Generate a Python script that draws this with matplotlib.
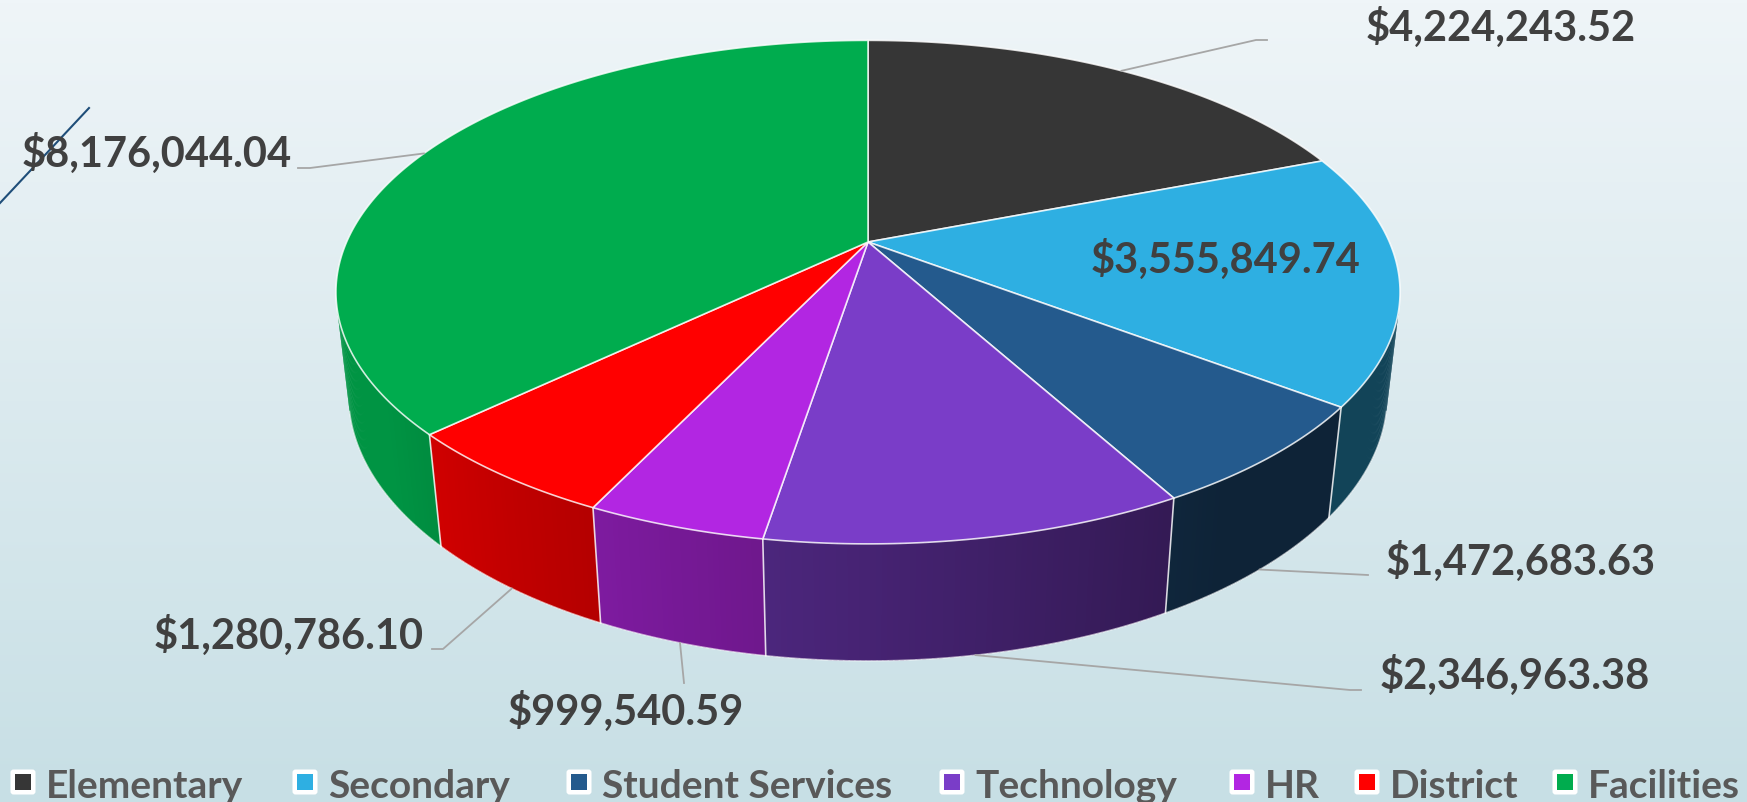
import numpy as np
import matplotlib.pyplot as plt
from matplotlib.patches import Polygon, FancyBboxPatch, Rectangle
from matplotlib.colors import to_rgb

plt.rcParams['font.family'] = ['Lato', 'DejaVu Sans']

# data
categories = ['Elementary', 'Secondary', 'Student Services', 'Technology', 'HR', 'District', 'Facilities']
values = [4224243.52, 3555849.74, 1472683.63, 2346963.38, 999540.59, 1280786.10, 8176044.04]
colors = ['#363636', '#2eafe2', '#245a8d', '#7a3dc8', '#b226e2', '#ff0000', '#00ac4e']
label_texts = ['$' + f'{v:,.2f}' for v in values]

W, H = 1747, 802
fig = plt.figure(figsize=(W / 100, H / 100), dpi=100)
ax = fig.add_axes([0, 0, 1, 1])
ax.set_xlim(0, W)
ax.set_ylim(H, 0)
ax.axis('off')

# background gradient
top_c = np.array(to_rgb('#eff5f8'))
bot_c = np.array(to_rgb('#c7dfe5'))
t = np.linspace(0, 1, 256)[:, None, None]
ax.imshow(top_c + (bot_c - top_c) * t, aspect='auto', extent=[0, W, H, 0], zorder=0)

# stray decoration line in the top left corner
ax.plot([0, 89], [203, 108], color='#1f4e79', lw=1.5, zorder=1)

# simple perspective camera for the 3d pie
cx, cy = 868, 242
sin_a = 0.4637
cos_a = np.sqrt(1 - sin_a ** 2)
D = 4.45
F = 521.4 * D
depth_h = 0.224


def proj(theta, r=1.0, z=0.0):
    th = np.radians(theta)
    u = r * np.sin(th)
    v = r * np.cos(th)
    dep = D + v * cos_a - z * sin_a
    yc = v * sin_a + z * cos_a
    return cx + F * u / dep, cy - F * yc / dep


def shade(theta):
    return 0.39 + 0.47 * np.clip((theta - 145) / 90.0, 0, 1)


total = sum(values)
bounds = np.concatenate([[0], np.cumsum(values) / total * 360])
vis_lo = np.degrees(np.arccos(-1 / (D * cos_a)))
vis_hi = 360 - vis_lo

# side walls (small overlapping strips for the gradient)
for i, col in enumerate(colors):
    a0, a1 = max(bounds[i], vis_lo), min(bounds[i + 1], vis_hi)
    if a1 <= a0:
        continue
    n = max(2, int((a1 - a0) / 0.5))
    ths = np.linspace(a0, a1, n + 1)
    base = np.array(to_rgb(col))
    for j in range(n):
        t0, t1 = ths[j], min(ths[j + 1] + 0.35, a1)
        tx0, ty0 = proj(t0)
        tx1, ty1 = proj(t1)
        bx1, by1 = proj(t1, z=-depth_h)
        bx0, by0 = proj(t0, z=-depth_h)
        c = base * shade((ths[j] + ths[j + 1]) / 2)
        ax.add_patch(Polygon([[tx0, ty0], [tx1, ty1], [bx1, by1], [bx0, by0]],
                             closed=True, facecolor=c, edgecolor='none', zorder=2))

# bottom silhouette + vertical seams
ths = np.linspace(vis_lo, vis_hi, 300)
bx, by = proj(ths, z=-depth_h)
ax.plot(bx, by, color='white', lw=1.0, alpha=0.6, zorder=3)
for b in bounds[1:-1]:
    if vis_lo < b < vis_hi:
        x0, y0 = proj(b)
        x1, y1 = proj(b, z=-depth_h)
        ax.plot([x0, x1], [y0, y1], color='white', lw=1.2, alpha=0.8, zorder=3)

# top face
for i, col in enumerate(colors):
    ths = np.linspace(bounds[i], bounds[i + 1], 200)
    px, py = proj(ths)
    pts = np.column_stack([np.r_[cx, px], np.r_[cy, py]])
    ax.add_patch(Polygon(pts, closed=True, facecolor=col, edgecolor=(1, 1, 1, 0.8),
                         lw=1.2, joinstyle='round', zorder=4))

# data labels with leader lines (elbow, end, text pos, alignment)
label_layout = {
    0: ((1256, 40), (1267, 40), (1501, 27), 'center'),
    2: ((1368, 575), (1368, 575), (1386, 561), 'left'),
    3: ((1350, 690), (1361, 690), (1380, 675), 'left'),
    4: ((684, 683), (684, 683), (626, 711), 'center'),
    5: ((443, 649), (432, 649), (424, 635), 'right'),
    6: ((310, 168), (298, 168), (22, 153), 'left'),
}
lab_kw = dict(fontsize=30, fontweight='bold', color='#404040', va='center', zorder=6)
for i, txt in enumerate(label_texts):
    mid = (bounds[i] + bounds[i + 1]) / 2
    if i not in label_layout:
        lx, ly = proj(mid, r=0.68)
        ax.text(lx, ly - 6, txt, ha='center', **lab_kw)
        continue
    if vis_lo < mid < vis_hi:
        axx, ayy = proj(mid, z=-depth_h)
    else:
        axx, ayy = proj(mid)
    (ex, ey), (fx, fy), (tx, ty), ha = label_layout[i]
    ax.plot([axx, ex, fx], [ayy, ey, fy], color='#a6a6a6', lw=1.3, zorder=5)
    ax.text(tx, ty, txt, ha=ha, **lab_kw)

# legend
leg_x = [11, 293, 567, 940, 1230, 1355, 1553]
for x, name, col in zip(leg_x, categories, colors):
    ax.add_patch(FancyBboxPatch((x + 1, 771), 22, 22, boxstyle='round,pad=1.5,rounding_size=3',
                                facecolor='white', edgecolor='none', zorder=6))
    ax.add_patch(Rectangle((x + 4, 774), 16, 16, facecolor=col, edgecolor='none', zorder=7))
    ax.text(x + 35, 798, name, fontsize=28, fontweight='bold', color='#595959',
            ha='left', va='baseline', zorder=7)

fig.savefig('out.png', dpi=100)
